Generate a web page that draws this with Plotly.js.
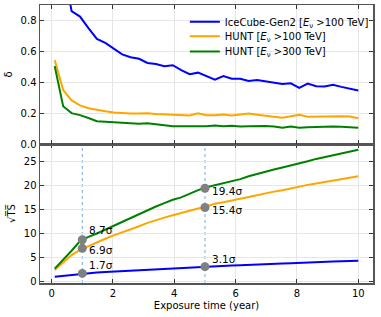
<!DOCTYPE html>
<html><head><meta charset="utf-8">
<script src="https://cdn.plot.ly/plotly-3.0.1.min.js"></script>
<style>html,body{margin:0;padding:0;background:#fff}#c{width:381px;height:317px}</style>
</head><body><div id="c"></div>
<script>
const years = [0.1,0.375,0.65,0.925,1.2,1.475,1.75,2.025,2.3,2.575,2.85,3.125,3.4,3.675,3.95,4.225,4.5,4.775,5.05,5.325,5.6,5.875,6.15,6.425,6.7,6.975,7.25,7.525,7.8,8.075,8.35,8.625,8.9,9.175,9.45,9.725,10.0];
const deltaIceCube = [1.6,1.16,0.86,0.825,0.75,0.68,0.655,0.615,0.58,0.562,0.552,0.525,0.518,0.503,0.51,0.478,0.452,0.462,0.438,0.417,0.44,0.423,0.423,0.408,0.415,0.405,0.398,0.388,0.393,0.364,0.391,0.374,0.372,0.384,0.37,0.358,0.346];
const deltaHunt100 = [0.543,0.35,0.282,0.25,0.232,0.221,0.212,0.204,0.2,0.198,0.197,0.199,0.195,0.193,0.191,0.191,0.185,0.199,0.186,0.186,0.191,0.185,0.189,0.197,0.189,0.183,0.18,0.17,0.179,0.19,0.176,0.178,0.178,0.18,0.18,0.178,0.167];
const deltaHunt300 = [0.504,0.245,0.2,0.187,0.168,0.148,0.144,0.141,0.137,0.132,0.131,0.135,0.13,0.121,0.115,0.115,0.116,0.113,0.115,0.119,0.115,0.118,0.113,0.115,0.117,0.116,0.113,0.106,0.113,0.106,0.108,0.111,0.112,0.114,0.111,0.108,0.106];
const tsIceCube = [1.0,1.2,1.4,1.6,1.8,1.9,2.0,2.1,2.2,2.3,2.4,2.5,2.6,2.7,2.8,2.9,3.0,3.1,3.15,3.2,3.3,3.35,3.4,3.5,3.55,3.6,3.7,3.75,3.8,3.9,3.95,4.0,4.1,4.15,4.2,4.3,4.35];
const tsHunt100 = [2.4,4.0,5.5,6.6,7.4,8.1,8.9,9.6,10.2,10.9,11.5,12.2,12.8,13.3,13.8,14.3,14.8,15.2,15.6,16.2,16.5,16.8,17.2,17.6,18.0,18.4,18.7,19.0,19.4,19.8,20.1,20.4,20.7,21.0,21.3,21.6,21.9];
const tsHunt300 = [2.7,4.5,6.4,8.4,9.3,10.0,10.8,11.6,12.4,13.2,14.0,14.9,15.6,16.3,17.0,17.5,18.3,19.0,19.6,20.0,20.4,20.8,21.3,21.9,22.4,22.9,23.3,23.7,24.1,24.6,25.0,25.5,25.9,26.3,26.6,27.0,27.4];
const markYears = [1,1,1,5,5,5];
const markValues = [1.7,6.9,8.7,3.1,15.4,19.4];
const markLabels = ['1.7σ','6.9σ','8.7σ','3.1σ','15.4σ','19.4σ'];
const markShiftY = [8,-2,10,8,-3,-3];
const seriesNames = ['IceCube-Gen2 [<i>E</i><sub>ν</sub> >100 TeV]','HUNT [<i>E</i><sub>ν</sub> >100 TeV]','HUNT [<i>E</i><sub>ν</sub> >300 TeV]'];
const colors = ['#0000ff','#ffa500','#008000'];

const F = 'DejaVu Sans, sans-serif';
const legendIds = ['legend','legend2','legend3'];
const legendY = [0.94,0.888,0.833];
const traces = [];
[deltaIceCube, deltaHunt100, deltaHunt300].forEach((d,i)=>{
  traces.push({x:years,y:d,xaxis:'x2',yaxis:'y2',mode:'lines',name:seriesNames[i],line:{color:colors[i],width:2},showlegend:true,legend:legendIds[i]});
});
[tsIceCube, tsHunt100, tsHunt300].forEach((d,i)=>{
  traces.push({x:years,y:d,xaxis:'x',yaxis:'y',mode:'lines',line:{color:colors[i],width:2},showlegend:false});
});
traces.push({x:markYears,y:markValues,xaxis:'x',yaxis:'y',mode:'markers',marker:{color:'#808080',size:9},showlegend:false});

const axBase = {ticks:'inside',ticklen:4,tickwidth:1,tickcolor:'#333',mirror:'allticks',showline:true,linecolor:'#555',linewidth:1.5,showgrid:true,gridcolor:'#e6e6e6',gridwidth:1,zeroline:false,tickfont:{family:F,size:10,color:'#000'}};
const annotations = markLabels.map((t,i)=>({x:markYears[i],y:markValues[i],xref:'x',yref:'y',text:t,showarrow:false,xanchor:'left',yanchor:'middle',xshift:5,yshift:markShiftY[i],font:{family:F,size:10.5,color:'#000'}}));

const shapes = [1,5].map(v=>({type:'line',xref:'x',yref:'y domain',x0:v,x1:v,y0:0,y1:1,line:{color:'#7aa6d6',width:1,dash:'dot'},layer:'below'}));
shapes.push({type:'rect',xref:'x2 domain',yref:'y2 domain',x0:0.435,x1:0.99,y0:0.62,y1:0.97,fillcolor:'rgba(255,255,255,0.85)',line:{width:0},layer:'below'});

const layout = {
  width:381,height:317,margin:{l:40,r:8,t:5,b:34},
  paper_bgcolor:'#fff',plot_bgcolor:'#fff',
  font:{family:F,size:10,color:'#000'},
  xaxis:Object.assign({},axBase,{domain:[0,1],anchor:'y',range:[-0.38,10.48],tickvals:[0,2,4,6,8,10],title:{text:'Exposure time (year)',font:{family:F,size:10},standoff:4}}),
  xaxis2:Object.assign({},axBase,{domain:[0,1],anchor:'y2',matches:'x',range:[-0.38,10.48],tickvals:[0,2,4,6,8,10],showticklabels:false}),
  yaxis:Object.assign({},axBase,{domain:[0,0.5],anchor:'x',range:[-0.3,28.6],tickvals:[0,5,10,15,20,25],title:{text:'√T̅S̅',font:{family:F,size:10},standoff:6}}),
  yaxis2:Object.assign({},axBase,{domain:[0.5,1],anchor:'x2',range:[0,0.9],tickvals:[0,0.2,0.4,0.6,0.8],tickformat:'.1f',title:{text:'δ',font:{family:F,size:10},standoff:6}}),
  shapes:shapes,
  annotations:annotations
};
legendIds.forEach((id,i)=>{
  layout[id] = {x:0.435,y:legendY[i],xanchor:'left',yanchor:'middle',xref:'paper',yref:'paper',bgcolor:'rgba(255,255,255,0)',borderwidth:0,font:{family:F,size:10,color:'#000'},itemwidth:30};
});
Plotly.newPlot('c',traces,layout,{staticPlot:true,displayModeBar:false});
</script></body></html>
